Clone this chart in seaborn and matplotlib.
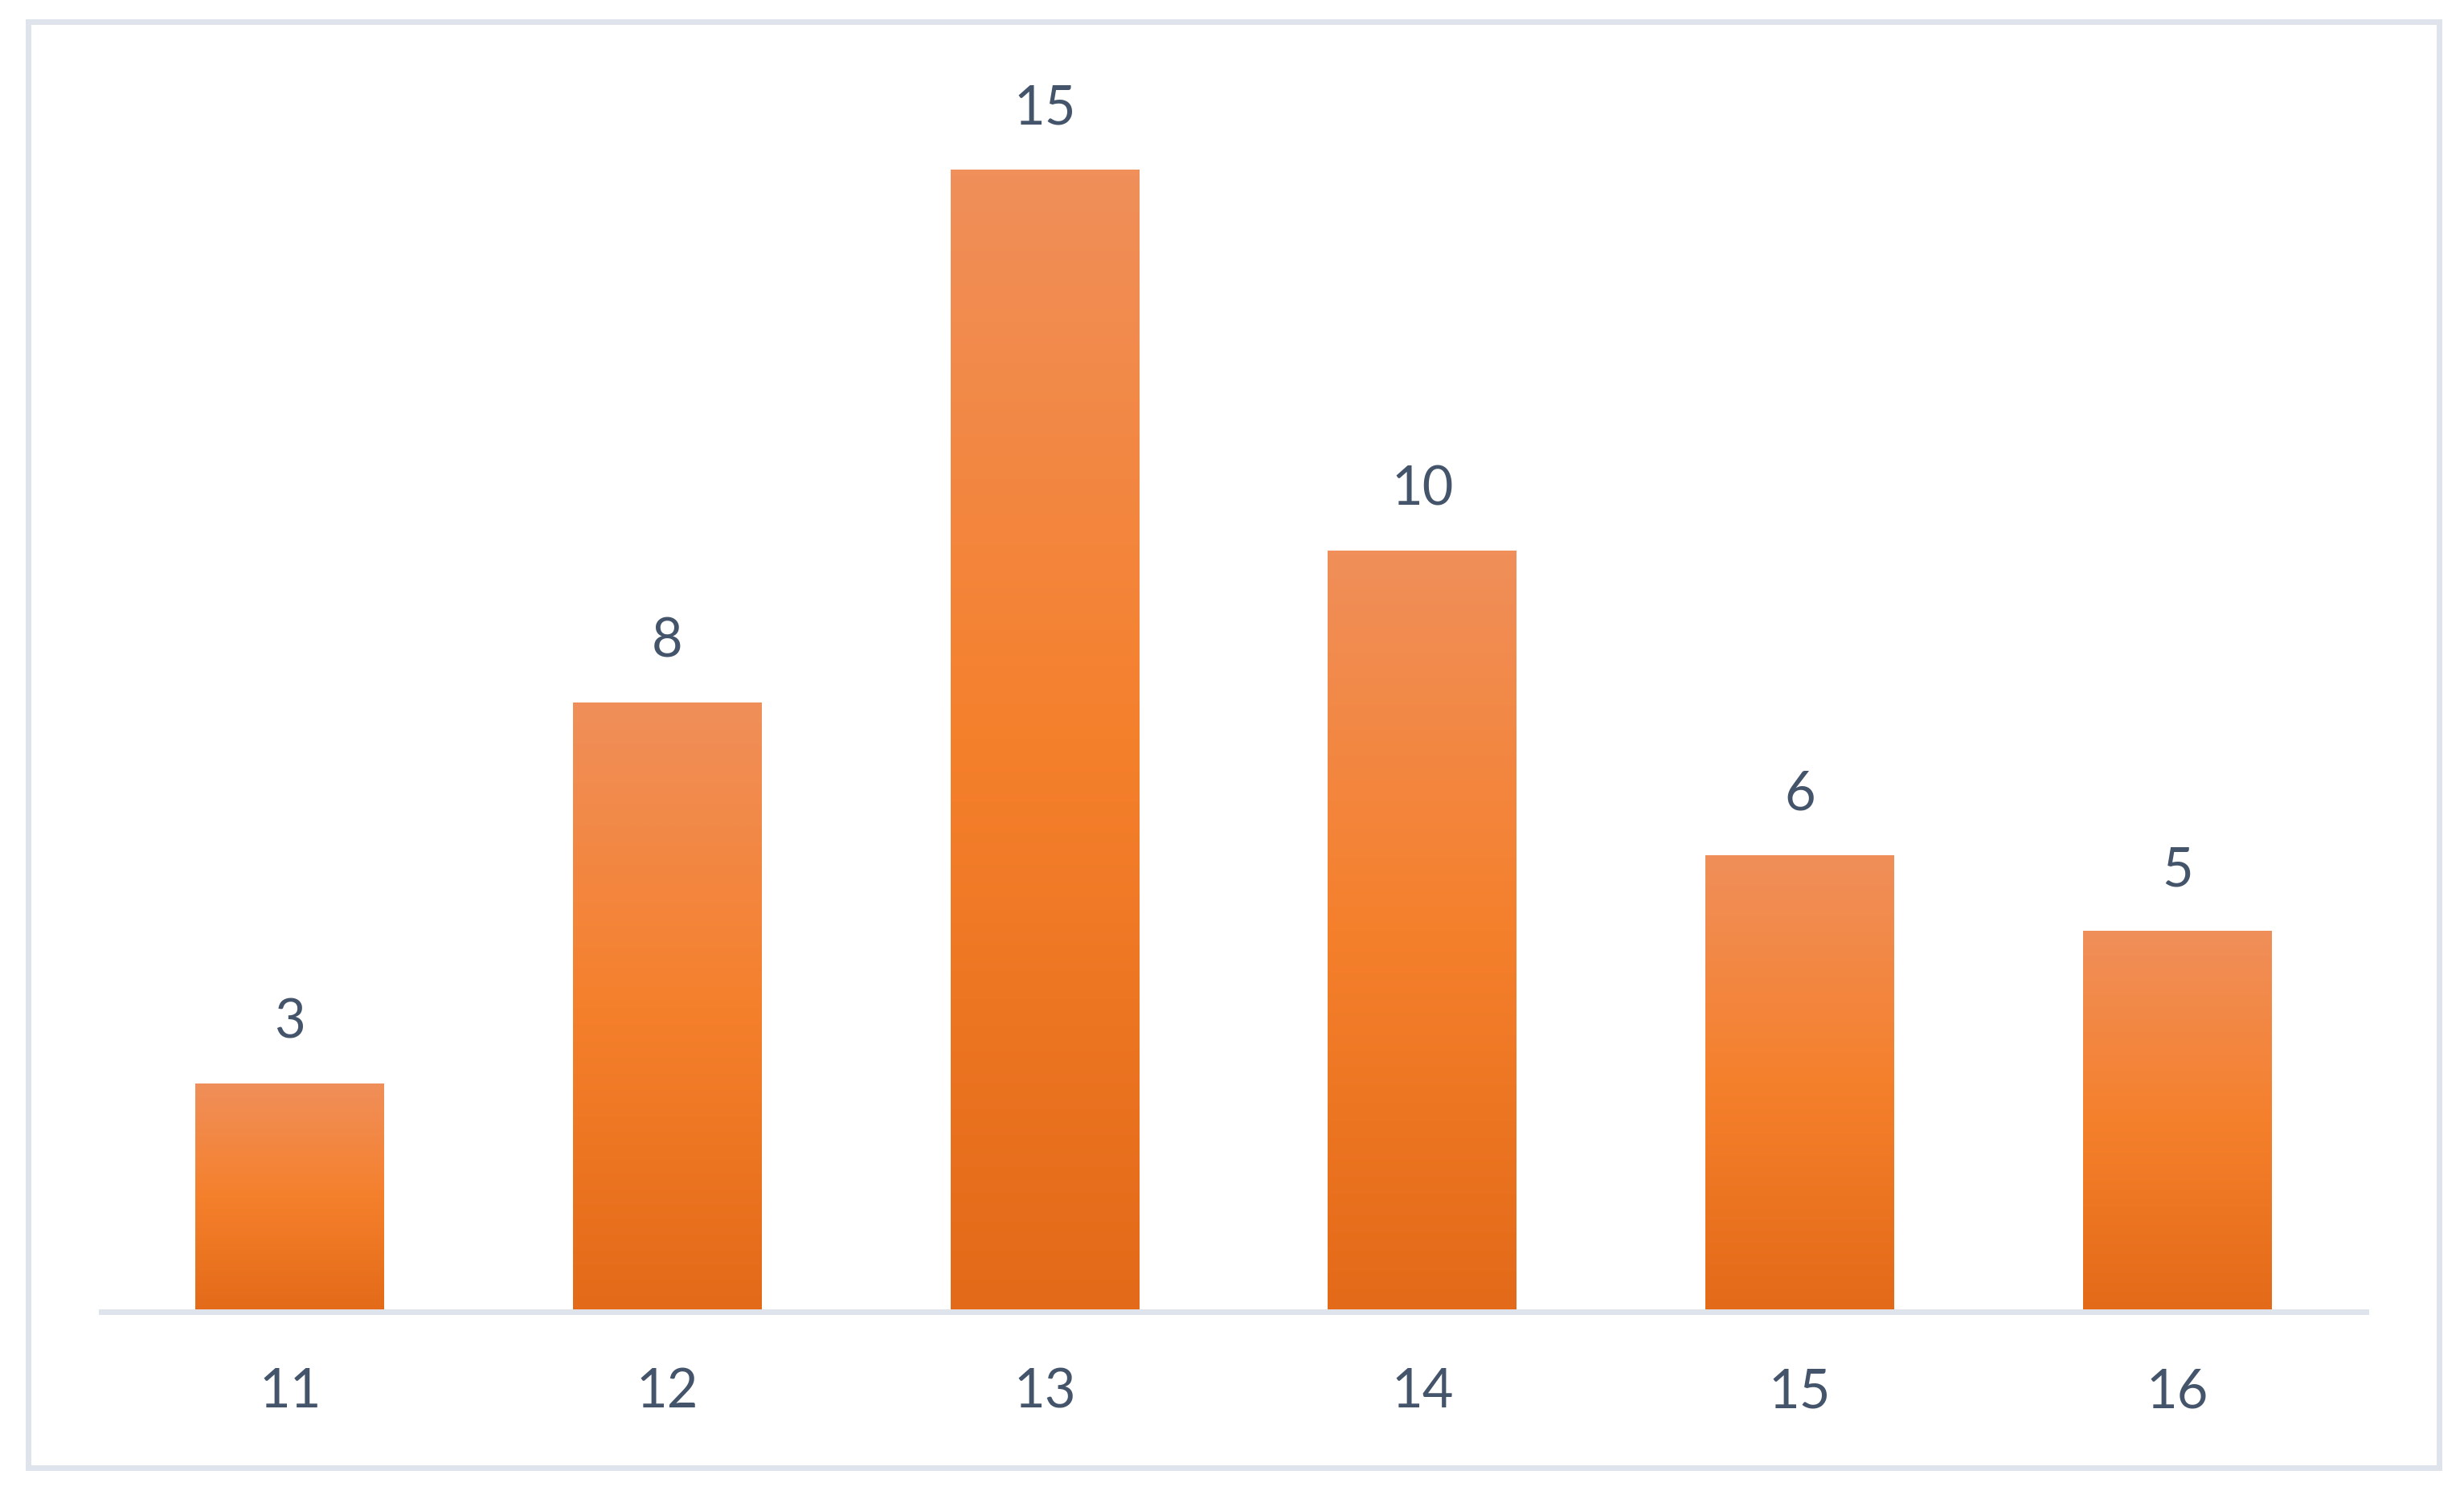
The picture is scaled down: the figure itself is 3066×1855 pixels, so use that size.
import matplotlib

matplotlib.use("Agg")
import numpy as np
import pandas as pd
import seaborn as sns
from matplotlib import pyplot as plt
from matplotlib.colors import LinearSegmentedColormap
from matplotlib.patches import Rectangle

ages = ["11", "12", "13", "14", "15", "16"]
counts = [3, 8, 15, 10, 6, 5]

TEXT_COLOR = "#44546A"
LINE_COLOR = "#DFE3EB"
BAR_GRADIENT = LinearSegmentedColormap.from_list("bar", ["#E36A18", "#F5802C", "#F08F5A"])


def add_gradient(ax, patch):
    x0, y0 = patch.get_x(), patch.get_y()
    w, h = patch.get_width(), patch.get_height()
    grad = np.linspace(0, 1, 256).reshape(-1, 1)
    img = ax.imshow(
        grad,
        cmap=BAR_GRADIENT,
        origin="lower",
        extent=[x0, x0 + w, y0, y0 + h],
        aspect="auto",
        interpolation="bicubic",
        zorder=patch.get_zorder() + 0.1,
    )
    img.set_clip_path(patch)


def main():
    sns.set_style("white")
    plt.rcParams["font.family"] = ["Lato", "DejaVu Sans"]

    df = pd.DataFrame({"age": ages, "count": counts})

    fig = plt.figure(figsize=(30.66, 18.55), dpi=100)
    ax = fig.add_axes([126 / 3066, 1 - 1632 / 1855, (2944 - 126) / 3066, (1632 - 116) / 1855])

    sns.barplot(data=df, x="age", y="count", color="#F5802C", width=0.5, ax=ax, saturation=1)

    ax.set_xlim(-0.5, len(ages) - 0.5)
    ax.set_ylim(0, 16)
    for patch in ax.patches:
        patch.set_linewidth(0)
        add_gradient(ax, patch)

    for i, v in enumerate(counts):
        ax.annotate(
            str(v), (i, v), xytext=(0, 75), textcoords="offset pixels",
            ha="center", va="center", fontsize=48, color=TEXT_COLOR,
        )

    sns.despine(ax=ax, left=True, top=True, right=True)
    ax.spines["bottom"].set_color(LINE_COLOR)
    ax.spines["bottom"].set_linewidth(5)
    ax.set_yticks([])
    ax.set_xlabel("")
    ax.set_ylabel("")
    ax.tick_params(axis="x", length=0, pad=50, labelsize=48, labelcolor=TEXT_COLOR)

    # chart border
    fig.patches.append(
        Rectangle((35 / 3066, 1 - 1826 / 1855), (3035 - 35) / 3066, (1826 - 27) / 1855,
                  transform=fig.transFigure, fill=False, edgecolor=LINE_COLOR, linewidth=5)
    )

    fig.savefig("out.png", dpi=100, facecolor="white")


if __name__ == "__main__":
    main()
